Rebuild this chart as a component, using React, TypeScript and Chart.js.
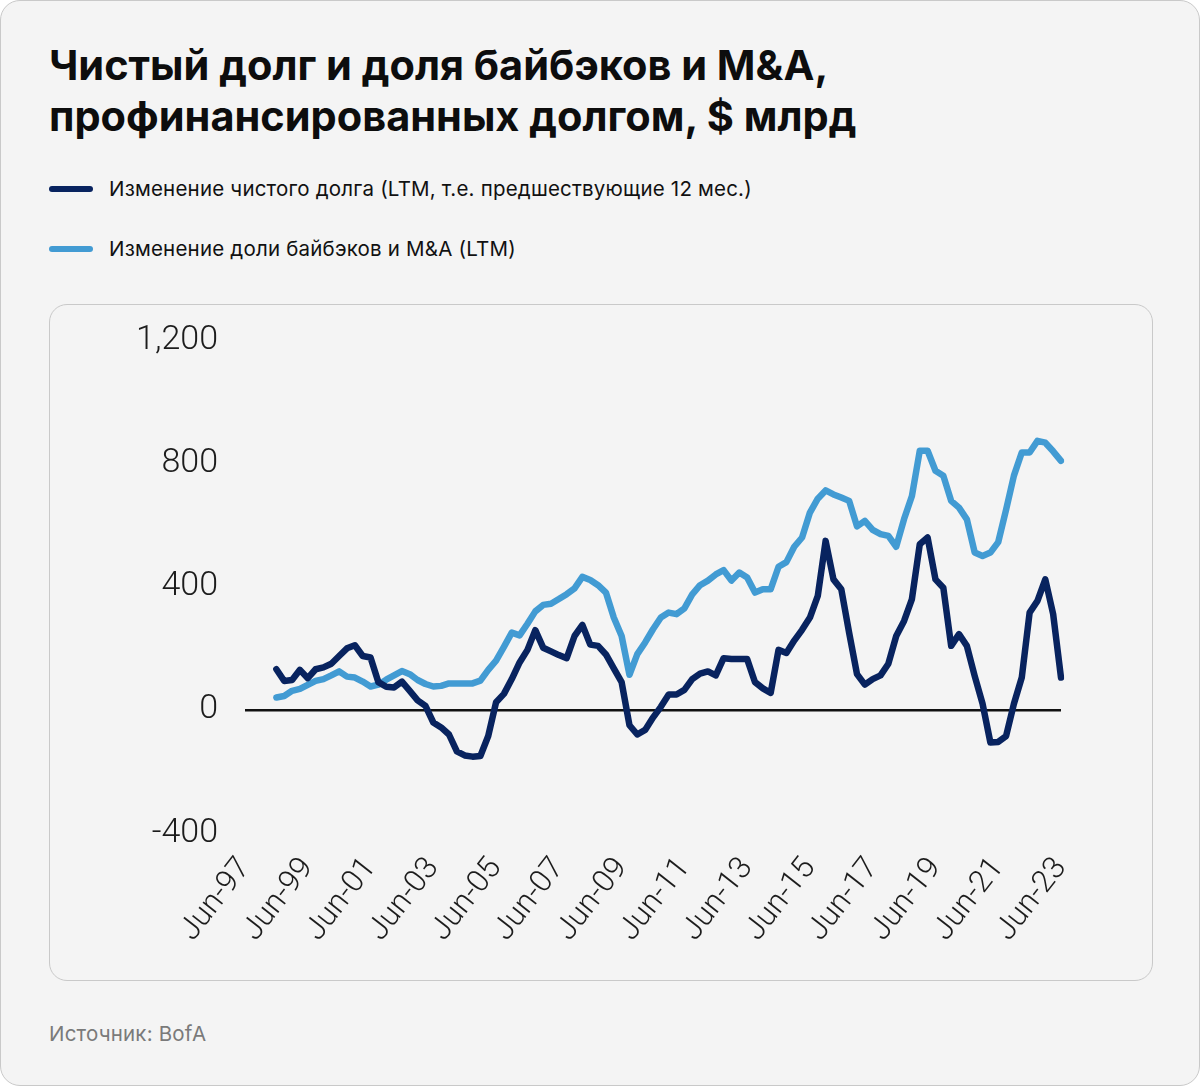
import React, { useEffect, useRef } from 'react';
import { Chart, registerables } from 'chart.js';

Chart.register(...registerables);

// Quarterly categories Jun-97 .. Jun-23
const quarterMonths = ['Jun', 'Sep', 'Dec', 'Mar'];
const firstYear = 1997;
const quarterCount = 105;
const categories: string[] = [];
for (let q = 0; q < quarterCount; q++) {
  const y = firstYear + Math.floor((q + 1) / 4);
  categories.push(quarterMonths[q % 4] + '-' + String(y % 100).padStart(2, '0'));
}

const xTickLabels = [
  'Jun-97', 'Jun-99', 'Jun-01', 'Jun-03', 'Jun-05', 'Jun-07', 'Jun-09',
  'Jun-11', 'Jun-13', 'Jun-15', 'Jun-17', 'Jun-19', 'Jun-21', 'Jun-23',
];
const yTicks = [-400, 0, 400, 800, 1200];

const netDebtChange: (number | null)[] = [
  null, null, null, null,
  132, 94, 97, 130, 103, 132, 138, 150, 175, 200,
  210, 175, 170, 90, 75, 73, 92, 62, 31, 13,
  -41, -57, -80, -135, -148, -152, -150, -85, 25, 52,
  100, 154, 195, 259, 202, 190, 178, 168, 240, 276,
  212, 208, 180, 135, 90, -50, -80, -65, -25, 10,
  50, 50, 65, 100, 118, 125, 112, 168, 165, 165,
  165, 90, 70, 55, 195, 185, 225, 260, 300, 370,
  549, 424, 392, 250, 116, 82, 100, 112, 150, 240,
  289, 360, 538, 560, 424, 397, 208, 246, 208, 110,
  20, -106, -104, -85, 20, 105, 316, 354, 424, 311,
  105,
];

const buybackMaChange: (number | null)[] = [
  null, null, null, null,
  40, 45, 62, 68, 81, 94, 100, 112, 125, 108,
  105, 92, 76, 82, 98, 112, 126, 116, 97, 84,
  76, 78, 86, 86, 86, 86, 95, 130, 160, 205,
  251, 242, 280, 320, 341, 345, 360, 376, 395, 432,
  422, 405, 381, 300, 240, 114, 181, 219, 262, 300,
  316, 311, 330, 375, 405, 420, 440, 454, 420, 446,
  430, 381, 392, 392, 465, 480, 530, 560, 641, 686,
  713, 700, 690, 679, 596, 614, 585, 571, 565, 530,
  620, 695, 842, 842, 777, 761, 679, 657, 619, 511,
  500, 511, 545, 650, 761, 836, 836, 874, 868, 840,
  809,
];

const seriesNames = [
  'Изменение чистого долга (LTM, т.е. предшествующие 12 мес.)',
  'Изменение доли байбэков и M&A (LTM)',
];
const seriesColors = ['#08235f', '#429bd3'];

const tickFont = "Roboto, 'Noto Sans', sans-serif";
const uiFont = "Inter, 'Noto Sans', sans-serif";

export default function App() {
  const canvasRef = useRef<HTMLCanvasElement | null>(null);

  useEffect(() => {
    document.body.style.margin = '0';
    const canvas = canvasRef.current;
    if (!canvas) return;
    const chart = new Chart(canvas, {
      type: 'line',
      data: {
        labels: categories,
        datasets: [
          {
            label: seriesNames[0],
            data: netDebtChange,
            borderColor: seriesColors[0],
            backgroundColor: seriesColors[0],
            borderWidth: 6.5,
            pointRadius: 0,
            borderCapStyle: 'round',
            borderJoinStyle: 'round',
            tension: 0,
            order: 1,
          },
          {
            label: seriesNames[1],
            data: buybackMaChange,
            borderColor: seriesColors[1],
            backgroundColor: seriesColors[1],
            borderWidth: 6.5,
            pointRadius: 0,
            borderCapStyle: 'round',
            borderJoinStyle: 'round',
            tension: 0,
            order: 2,
          },
        ],
      },
      options: {
        animation: false,
        responsive: false,
        maintainAspectRatio: false,
        layout: { padding: { left: 0, right: 91, top: 35.5, bottom: 0 } },
        plugins: {
          legend: { display: false },
          tooltip: { enabled: false },
        },
        scales: {
          x: {
            type: 'category',
            offset: false,
            grid: { display: false },
            border: { display: false },
            ticks: {
              autoSkip: false,
              maxRotation: 52,
              minRotation: 52,
              padding: 10,
              color: '#1c1c1c',
              font: { family: tickFont, size: 31, weight: '300' },
              callback: function (this: any, _v: any, index: number) {
                const lab = categories[index];
                return xTickLabels.includes(lab) ? lab : '';
              },
            },
            afterFit: (scale: any) => {
              scale.height = 147;
            },
          },
          y: {
            min: -400,
            max: 1200,
            afterBuildTicks: (scale: any) => {
              scale.ticks = yTicks.map((v) => ({ value: v }));
            },
            grid: {
              drawTicks: true,
              tickLength: 27,
              tickColor: 'rgba(0,0,0,0)',
              lineWidth: (ctx: any) => (ctx.tick && ctx.tick.value === 0 ? 2.5 : 0),
              color: (ctx: any) => (ctx.tick && ctx.tick.value === 0 ? '#111111' : 'rgba(0,0,0,0)'),
            },
            border: { display: false },
            ticks: {
              padding: 0,
              color: '#1c1c1c',
              font: { family: tickFont, size: 34, weight: '300' },
              callback: (v: any) => Number(v).toLocaleString('en-US'),
            },
            afterFit: (scale: any) => {
              scale.width = 195;
            },
          },
        },
      },
    });
    return () => chart.destroy();
  }, []);

  const legendRow = (i: number, top: number) => (
    <div style={{ position: 'absolute', left: 48, top, height: 24, display: 'flex', alignItems: 'center' }}>
      <div style={{ width: 44, height: 6, borderRadius: 3, background: seriesColors[i] }} />
      <div
        style={{
          marginLeft: 16,
          fontFamily: uiFont,
          fontSize: 20.5,
          letterSpacing: 0.2,
          lineHeight: '24px',
          color: '#111',
          whiteSpace: 'nowrap',
        }}
      >
        {seriesNames[i]}
      </div>
    </div>
  );

  return (
    <div
      style={{
        position: 'relative',
        width: 1200,
        height: 1086,
        boxSizing: 'border-box',
        background: '#f4f4f4',
        border: '1px solid #c9c9c9',
        borderRadius: 20,
        overflow: 'hidden',
      }}
    >
      <div
        style={{
          position: 'absolute',
          left: 48,
          top: 39,
          fontFamily: uiFont,
          fontWeight: 700,
          fontSize: 41.5,
          lineHeight: '51px',
          color: '#0d0d0d',
          whiteSpace: 'nowrap',
        }}
      >
        <div>Чистый долг и доля байбэков и M&amp;A,</div>
        <div>профинансированных долгом, $ млрд</div>
      </div>
      {legendRow(0, 176)}
      {legendRow(1, 236)}
      <div
        style={{
          position: 'absolute',
          left: 48,
          top: 303,
          width: 1104,
          height: 677,
          boxSizing: 'border-box',
          border: '1px solid #c9c9c9',
          borderRadius: 18,
          background: '#f4f4f4',
        }}
      >
        <canvas ref={canvasRef} width={1102} height={675} style={{ display: 'block', width: 1102, height: 675 }} />
      </div>
      <div
        style={{
          position: 'absolute',
          left: 48,
          top: 1021,
          fontFamily: uiFont,
          fontSize: 20.5,
          letterSpacing: 0.2,
          lineHeight: '24px',
          color: '#7a7a7a',
          whiteSpace: 'nowrap',
        }}
      >
        Источник: BofA
      </div>
    </div>
  );
}
